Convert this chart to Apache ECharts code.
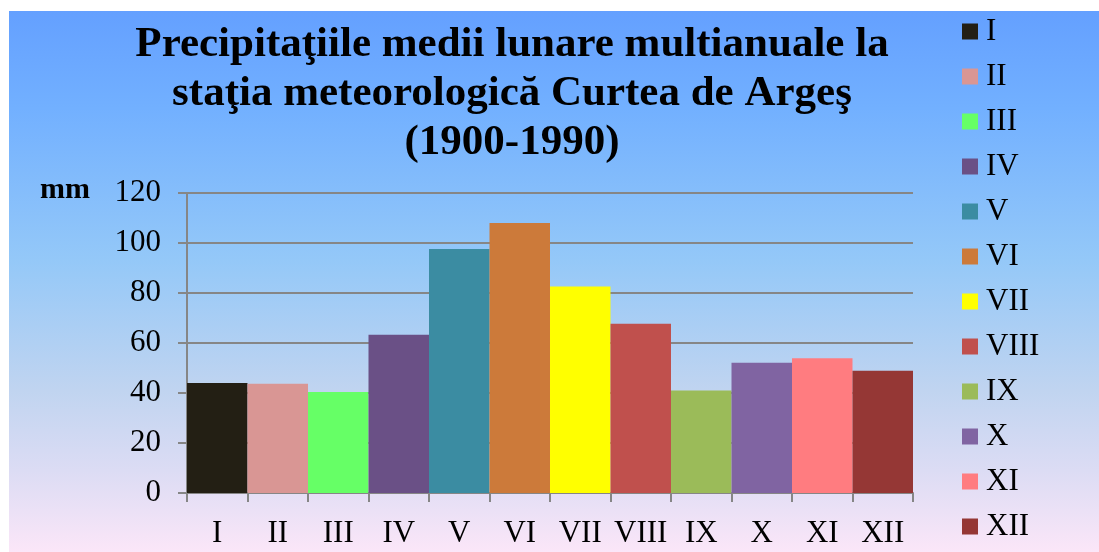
<!DOCTYPE html>
<html>
<head>
<meta charset="utf-8">
<script src="https://cdn.jsdelivr.net/npm/echarts@6/dist/echarts.min.js"></script>
<style>
  html, body { margin: 0; padding: 0; background: #fff; }
  #chart { width: 1099px; height: 552px; }
</style>
</head>
<body>
<div id="chart"></div>
<script>
  // luni (categorii) si precipitatii medii (mm)
  const months = ['I', 'II', 'III', 'IV', 'V', 'VI', 'VII', 'VIII', 'IX', 'X', 'XI', 'XII']
  const precip = [44, 43.7, 40.4, 63.3, 97.6, 108, 82.6, 67.7, 41, 52.1, 53.9, 48.9]
  const barColors = ['#231f14', '#d99694', '#66ff66', '#6a5086', '#3b8ca2', '#cc7a3a',
    '#ffff00', '#c0504d', '#9bbb59', '#8064a2', '#ff7c80', '#953735']
  const yTicks = [0, 20, 40, 60, 80, 100, 120]

  const serif = '"Liberation Serif", "Times New Roman", serif'
  const chart = echarts.init(document.getElementById('chart'))

  // o serie pe luna, ca in legenda originala
  const seriesArr = months.map((m, i) => ({
    name: m,
    type: 'bar',
    stack: 'luna',
    barWidth: '100%',
    itemStyle: { color: barColors[i] },
    data: months.map((_, j) => (j === i ? precip[i] : '-'))
  }))

  chart.setOption({
    animation: false,
    backgroundColor: '#ffffff',
    graphic: [
      {
        type: 'rect',
        z: -10,
        shape: { x: 9, y: 11, width: 1090, height: 541 },
        style: {
          fill: new echarts.graphic.LinearGradient(0, 0, 0, 1, [
            { offset: 0, color: '#64a0ff' },
            { offset: 0.18, color: '#72b0ff' },
            { offset: 0.46, color: '#94c8f8' },
            { offset: 0.7, color: '#c0d4f0' },
            { offset: 0.85, color: '#dcdcf4' },
            { offset: 1, color: '#fbe6f8' }
          ])
        }
      },
      {
        type: 'text',
        left: 40,
        top: 175,
        style: { text: 'mm', font: 'bold 30px ' + serif, fill: '#000' }
      }
    ],
    title: {
      text: 'Precipitaţiile medii lunare multianuale la\nstaţia meteorologică Curtea de Argeş\n(1900-1990)',
      left: 507,
      top: 15,
      textAlign: 'center',
      textStyle: {
        fontFamily: serif,
        fontWeight: 'bold',
        fontSize: 43,
        lineHeight: 49,
        color: '#000'
      }
    },
    legend: {
      orient: 'vertical',
      left: 957,
      top: 11,
      icon: 'rect',
      itemWidth: 16,
      itemHeight: 16,
      itemGap: 14,
      textStyle: { fontFamily: serif, fontSize: 31, color: '#000', lineHeight: 31, padding: [0, 0, 0, 3] },
      data: months
    },
    grid: {
      left: 187,
      right: 186,
      top: 193,
      bottom: 59,
      containLabel: false
    },
    xAxis: {
      type: 'category',
      data: months,
      boundaryGap: true,
      axisLine: { lineStyle: { color: '#868686', width: 2 } },
      axisTick: { show: true, length: 9, lineStyle: { color: '#868686', width: 2 } },
      axisLabel: { fontFamily: serif, fontSize: 31, color: '#000', margin: 25, interval: 0 }
    },
    yAxis: {
      type: 'value',
      min: yTicks[0],
      max: yTicks[yTicks.length - 1],
      interval: 20,
      axisLine: { show: true, lineStyle: { color: '#868686', width: 2 } },
      axisTick: { show: true, length: 9, lineStyle: { color: '#868686', width: 2 } },
      axisLabel: { fontFamily: serif, fontSize: 31, color: '#000', margin: 26 },
      splitLine: { lineStyle: { color: '#868686', width: 2 } }
    },
    series: seriesArr
  })
</script>
</body>
</html>
